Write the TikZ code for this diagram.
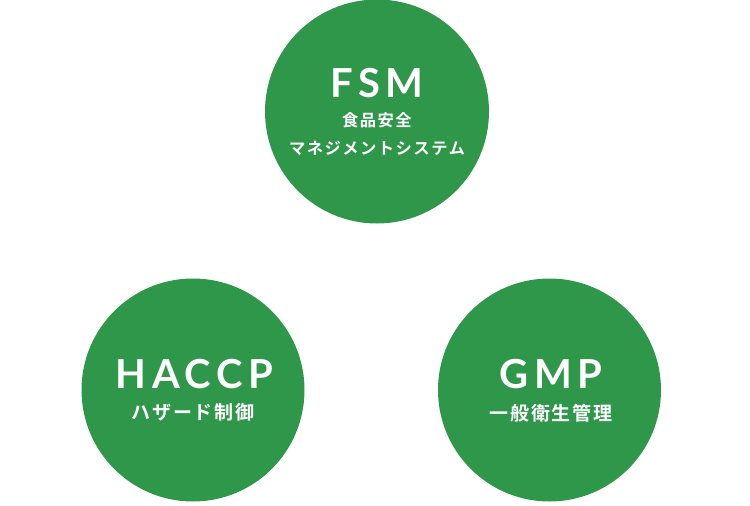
\documentclass[tikz,border=0pt]{standalone}
\usepackage{fontspec}
\newfontfamily\titlefont[LetterSpace=14]{Lato Bold}
\newfontfamily\jpfonta[LetterSpace=9]{Noto Sans CJK JP Bold}
\newfontfamily\jpfontb[LetterSpace=10]{Noto Sans CJK JP Bold}
\definecolor{circgreen}{RGB}{46,151,74}
\tikzset{
  circ/.style={circle,fill=circgreen,minimum size=#1,inner sep=0pt},
  ttl/.style={text=white,anchor=base,inner sep=0pt,font=\titlefont\fontsize{40}{40}\selectfont},
  suba/.style={text=white,anchor=center,inner sep=0pt,font=\jpfonta\fontsize{16.3}{16.3}\selectfont},
  subb/.style={text=white,anchor=center,inner sep=0pt,font=\jpfontb\fontsize{19}{19}\selectfont},
}
\begin{document}
\begin{tikzpicture}[x=1pt,y=-1pt]
\useasboundingbox (0,0) rectangle (750,506);
\node[circ=224pt] (fsm) at (377,111.5) {};
\node[circ=223pt] (haccp) at (193,390) {};
\node[circ=223pt] (gmp) at (549.5,390) {};
\node[ttl] (fsmt) at (377,97) {FSM};
\node[suba] (fsms1) at (377,120.5) {食品安全};
\node[suba] (fsms2) at (377,148.5) {マネジメントシステム};
\node[ttl] (haccpt) at (194.5,388) {HACCP};
\node[subb] (haccps) at (193,412.5) {ハザード制御};
\node[ttl] (gmpt) at (551,388) {GMP};
\node[subb] (gmps) at (551,413.5) {一般衛生管理};
\end{tikzpicture}
\end{document}
